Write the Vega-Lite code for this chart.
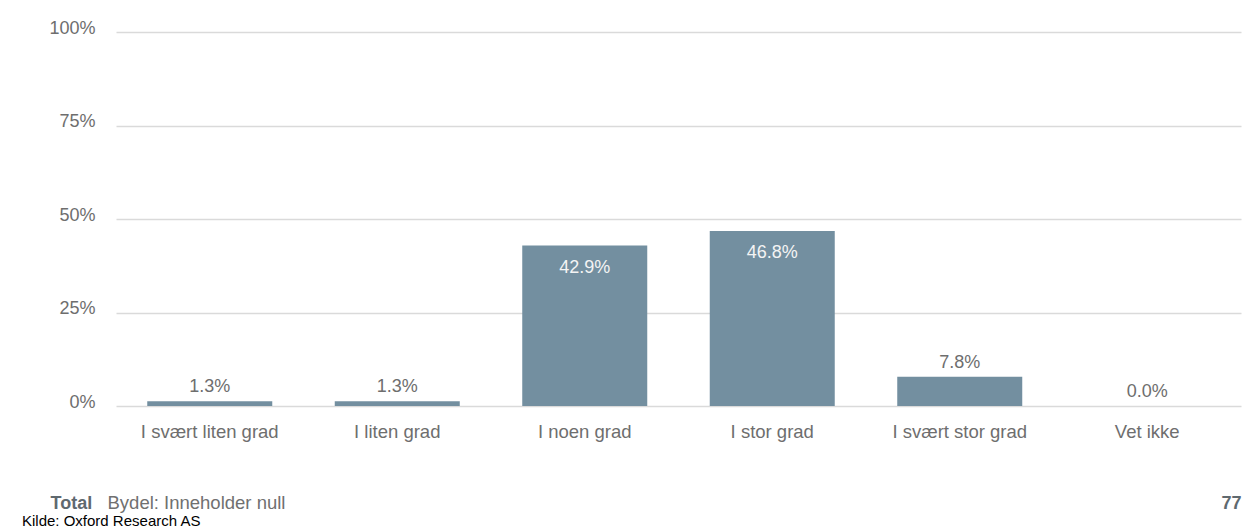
{
  "$schema": "https://vega.github.io/schema/vega-lite/v6.json",
  "width": 1125,
  "height": 374,
  "autosize": {"type": "none"},
  "padding": {"left": 116, "top": 32, "right": 3, "bottom": 123},
  "background": "white",
  "config": {
    "view": {"stroke": null},
    "font": "Liberation Sans",
    "axis": {"labelFont": "Liberation Sans", "titleFont": "Liberation Sans"}
  },
  "title": {
    "text": "Kilde: Oxford Research AS",
    "orient": "bottom",
    "anchor": "start",
    "frame": "group",
    "dx": -94,
    "offset": 2,
    "baseline": "top",
    "font": "Liberation Sans",
    "fontSize": 15,
    "fontWeight": "normal",
    "color": "#000000"
  },
  "data": {
    "values": [
      {"kategori": "I svært liten grad", "andel": 0.013},
      {"kategori": "I liten grad", "andel": 0.013},
      {"kategori": "I noen grad", "andel": 0.429},
      {"kategori": "I stor grad", "andel": 0.468},
      {"kategori": "I svært stor grad", "andel": 0.078},
      {"kategori": "Vet ikke", "andel": 0.0}
    ]
  },
  "encoding": {
    "x": {
      "field": "kategori",
      "type": "nominal",
      "sort": null,
      "scale": {"paddingInner": 0.3333, "paddingOuter": 0.1667},
      "axis": {
        "title": "Bydel: Inneholder  null",
        "titleX": -9,
        "titleY": 102,
        "titleAlign": "left",
        "titleBaseline": "alphabetic",
        "titleFontSize": 18.5,
        "titleFontWeight": "normal",
        "titleColor": "#707070",
        "labelAngle": 0,
        "labelFontSize": 18.5,
        "labelColor": "#6e6e6e",
        "labelPadding": 16,
        "ticks": false,
        "tickSize": 0,
        "domain": false,
        "grid": false
      }
    }
  },
  "layer": [
    {
      "layer": [
        {
          "mark": {"type": "bar", "color": "#738fa0"},
          "encoding": {
            "y": {
              "field": "andel",
              "type": "quantitative",
              "scale": {"domain": [0, 1]},
              "axis": {
                "values": [0, 0.25, 0.5, 0.75, 1],
                "format": ".0%",
                "title": "Total",
                "titleAngle": 0,
                "titleX": -66,
                "titleY": 476,
                "titleAlign": "left",
                "titleBaseline": "alphabetic",
                "titleFontSize": 18,
                "titleFontWeight": "bold",
                "titleColor": "#5f696f",
                "labelFontSize": 18,
                "labelColor": "#6e6e6e",
                "labelBaseline": "alphabetic",
                "labelOffset": 1,
                "labelPadding": 21,
                "ticks": false,
                "tickSize": 0,
                "domain": false,
                "grid": true,
                "gridColor": "#dadada",
                "gridWidth": 1.3
              }
            }
          }
        },
        {
          "transform": [{"filter": "datum.andel >= 0.2"}],
          "mark": {"type": "text", "baseline": "alphabetic", "dy": 27, "fontSize": 18, "color": "#f4f4f4"},
          "encoding": {
            "y": {"field": "andel", "type": "quantitative"},
            "text": {"field": "andel", "type": "quantitative", "format": ".1%"}
          }
        }
      ]
    },
    {
      "transform": [{"filter": "datum.andel < 0.2"}],
      "mark": {"type": "text", "baseline": "alphabetic", "dy": -9, "fontSize": 18, "color": "#6e6e6e"},
      "encoding": {
        "y": {
          "field": "andel",
          "type": "quantitative",
          "scale": {"domain": [0, 1]},
          "axis": {
            "orient": "right",
            "title": "77",
            "titleAngle": 0,
            "titleX": 0,
            "titleY": 476,
            "titleAlign": "right",
            "titleBaseline": "alphabetic",
            "titleFontSize": 18,
            "titleFontWeight": "bold",
            "titleColor": "#5f696f",
            "labels": false,
            "ticks": false,
            "domain": false,
            "grid": false
          }
        },
        "text": {"field": "andel", "type": "quantitative", "format": ".1%"}
      }
    }
  ],
  "resolve": {"scale": {"y": "independent"}, "axis": {"y": "independent"}}
}
